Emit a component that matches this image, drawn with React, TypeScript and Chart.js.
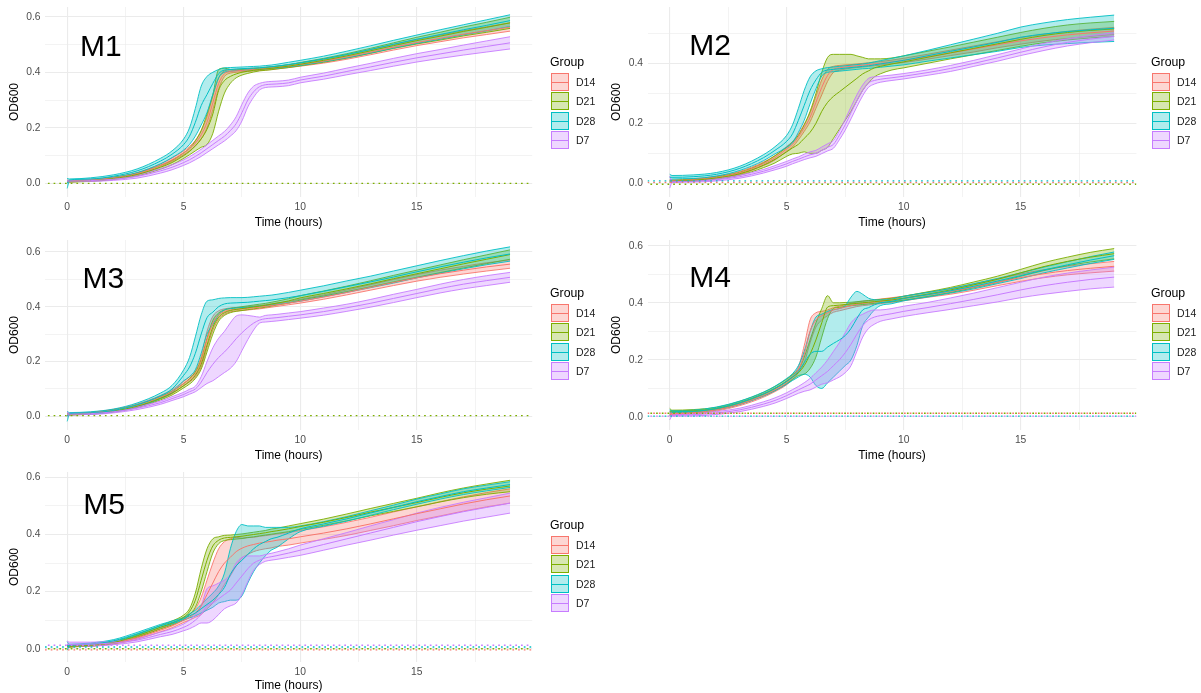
import React, { useEffect, useRef } from "react";
import { Chart, registerables } from "chart.js";

Chart.register(...registerables);

const FONT = '"Liberation Sans", Arial, Helvetica, sans-serif';
Chart.defaults.font.family = FONT;

// ---------------- data ----------------
const TIME = [0, 0.1, 1, 2, 3, 4, 4.5, 5, 5.25, 5.5, 5.75, 6, 6.25, 6.5, 6.75, 7, 7.25, 7.5, 7.75, 8, 8.25, 8.5, 8.75, 9, 9.5, 10, 11, 12, 13, 14, 15, 16, 17, 18, 19];
const GROUPS = ["D14", "D21", "D28", "D7"];
const PANEL_NAMES = ["M1", "M2", "M3", "M4", "M5"];
const X_TICKS = [0, 2.5, 5, 7.5, 10, 12.5, 15, 17.5];
const Y_TICKS_06 = [0, 0.1, 0.2, 0.3, 0.4, 0.5, 0.6];
const Y_TICKS_05 = [0, 0.1, 0.2, 0.3, 0.4, 0.5];
const X_MIN = -0.95;
const X_MAX = 19.95;

// M1
const M1_D14_MEAN = [0.008,0.008,0.012,0.02,0.035, 0.065,0.085,0.11,0.125,0.145, 0.175,0.22,0.29,0.36,0.395, 0.403,0.405,0.407,0.408,0.41, 0.411,0.413,0.415,0.417,0.422, 0.428,0.44,0.455,0.472,0.49, 0.507,0.522,0.537,0.55,0.563];
const M1_D14_SD = [0.004,0.003,0.003,0.003,0.004, 0.005,0.006,0.007,0.008,0.01, 0.015,0.02,0.025,0.02,0.01, 0.006,0.005,0.005,0.005,0.005, 0.005,0.005,0.005,0.005,0.005, 0.006,0.007,0.008,0.009,0.01, 0.011,0.012,0.013,0.014,0.015];
const M1_D21_MEAN = [0.006,0.007,0.01,0.018,0.032, 0.058,0.075,0.1,0.115,0.135, 0.16,0.195,0.25,0.335,0.37, 0.385,0.394,0.4,0.404,0.407, 0.41,0.412,0.414,0.417,0.422, 0.429,0.443,0.459,0.477,0.496, 0.514,0.53,0.547,0.562,0.578];
const M1_D21_SD = [0.003,0.003,0.003,0.004,0.005, 0.007,0.008,0.01,0.012,0.018, 0.03,0.055,0.07,0.075,0.045, 0.025,0.014,0.01,0.008,0.006, 0.005,0.005,0.005,0.005,0.005, 0.006,0.007,0.008,0.009,0.01, 0.012,0.014,0.016,0.018,0.02];
const M1_D28_MEAN = [0.0,0.012,0.016,0.026,0.045, 0.08,0.105,0.14,0.17,0.22, 0.28,0.32,0.36,0.395,0.408, 0.41,0.412,0.413,0.414,0.415, 0.416,0.418,0.42,0.422,0.428, 0.434,0.448,0.464,0.482,0.501, 0.519,0.536,0.553,0.569,0.586];
const M1_D28_SD = [0.018,0.004,0.004,0.005,0.007, 0.01,0.012,0.02,0.03,0.05, 0.07,0.065,0.04,0.015,0.008, 0.007,0.006,0.006,0.006,0.006, 0.006,0.006,0.006,0.007,0.008, 0.009,0.01,0.012,0.013,0.014, 0.015,0.017,0.018,0.02,0.021];
const M1_D7_MEAN = [0.008,0.008,0.01,0.015,0.025, 0.045,0.058,0.075,0.085,0.097, 0.11,0.125,0.14,0.155,0.17, 0.19,0.215,0.255,0.3,0.33, 0.348,0.355,0.357,0.358,0.362, 0.372,0.386,0.403,0.419,0.436, 0.452,0.466,0.48,0.493,0.506];
const M1_D7_SD = [0.003,0.002,0.003,0.004,0.006, 0.008,0.009,0.01,0.011,0.012, 0.013,0.014,0.015,0.016,0.017, 0.02,0.025,0.03,0.025,0.02, 0.012,0.01,0.01,0.01,0.01, 0.01,0.011,0.012,0.013,0.014, 0.015,0.016,0.018,0.02,0.022];
const M1_BLANK = [null, 0.0, null, null];

// M2
const M2_D14_MEAN = [0.008,0.008,0.012,0.02,0.035, 0.065,0.085,0.115,0.13,0.155, 0.185,0.22,0.27,0.32,0.36, 0.38,0.385,0.388,0.39,0.392, 0.394,0.396,0.398,0.4,0.405, 0.41,0.422,0.435,0.448,0.462, 0.475,0.486,0.495,0.502,0.508];
const M2_D14_SD = [0.004,0.003,0.003,0.004,0.005, 0.006,0.007,0.008,0.009,0.01, 0.012,0.015,0.02,0.025,0.02, 0.01,0.008,0.007,0.006,0.006, 0.006,0.006,0.006,0.006,0.006, 0.007,0.008,0.009,0.01,0.01, 0.011,0.011,0.012,0.012,0.012];
const M2_D21_MEAN = [0.006,0.007,0.01,0.018,0.032, 0.06,0.08,0.105,0.118,0.13, 0.15,0.17,0.2,0.24,0.27, 0.29,0.305,0.32,0.335,0.35, 0.365,0.375,0.385,0.39,0.398, 0.405,0.42,0.435,0.45,0.465, 0.48,0.493,0.503,0.51,0.515];
const M2_D21_SD = [0.003,0.003,0.003,0.004,0.005, 0.008,0.012,0.015,0.02,0.03, 0.045,0.07,0.1,0.13,0.15, 0.14,0.125,0.11,0.095,0.075, 0.055,0.04,0.03,0.025,0.02, 0.02,0.02,0.02,0.021,0.022, 0.023,0.024,0.025,0.025,0.025];
const M2_D28_MEAN = [0.02,0.02,0.022,0.03,0.05, 0.085,0.11,0.14,0.165,0.21, 0.26,0.31,0.345,0.37,0.378, 0.38,0.382,0.384,0.386,0.388, 0.39,0.392,0.395,0.398,0.404, 0.41,0.425,0.44,0.455,0.47, 0.487,0.498,0.506,0.512,0.517];
const M2_D28_SD = [0.01,0.006,0.006,0.006,0.007, 0.01,0.012,0.02,0.03,0.04, 0.05,0.045,0.03,0.012,0.008, 0.008,0.008,0.008,0.008,0.008, 0.008,0.009,0.01,0.011,0.013, 0.015,0.018,0.022,0.026,0.03, 0.034,0.037,0.04,0.042,0.044];
const M2_D7_MEAN = [0.004,0.005,0.007,0.012,0.022, 0.04,0.052,0.065,0.073,0.08, 0.088,0.095,0.1,0.11,0.12, 0.13,0.16,0.195,0.235,0.275, 0.31,0.335,0.343,0.347,0.352, 0.357,0.369,0.383,0.4,0.418, 0.437,0.455,0.47,0.481,0.49];
const M2_D7_SD = [0.02,0.003,0.003,0.004,0.005, 0.006,0.007,0.008,0.008,0.008, 0.009,0.01,0.01,0.011,0.012, 0.013,0.015,0.018,0.02,0.02, 0.018,0.015,0.012,0.01,0.009, 0.009,0.009,0.01,0.01,0.011, 0.011,0.012,0.012,0.012,0.012];
const M2_BLANK = [0.003, -0.003, 0.008, null];

// M3
const M3_D14_MEAN = [0.008,0.008,0.012,0.022,0.04, 0.07,0.09,0.12,0.135,0.155, 0.2,0.28,0.34,0.37,0.382, 0.388,0.39,0.392,0.394,0.396, 0.398,0.401,0.404,0.407,0.413, 0.42,0.435,0.452,0.47,0.488, 0.505,0.52,0.533,0.545,0.555];
const M3_D14_SD = [0.005,0.003,0.003,0.004,0.005, 0.006,0.007,0.008,0.009,0.012, 0.02,0.03,0.025,0.015,0.01, 0.007,0.006,0.006,0.006,0.006, 0.006,0.006,0.006,0.006,0.006, 0.007,0.008,0.009,0.01,0.011, 0.012,0.013,0.014,0.015,0.015];
const M3_D21_MEAN = [0.006,0.007,0.011,0.02,0.037, 0.066,0.085,0.112,0.128,0.15, 0.19,0.26,0.325,0.362,0.378, 0.386,0.39,0.393,0.396,0.399, 0.402,0.405,0.409,0.413,0.421, 0.432,0.448,0.465,0.483,0.502, 0.52,0.538,0.556,0.573,0.59];
const M3_D21_SD = [0.003,0.003,0.003,0.004,0.005, 0.006,0.007,0.008,0.01,0.012, 0.018,0.025,0.025,0.015,0.01, 0.008,0.007,0.007,0.007,0.007, 0.007,0.007,0.007,0.007,0.008, 0.008,0.009,0.01,0.011,0.012, 0.013,0.014,0.015,0.016,0.017];
const M3_D28_MEAN = [0.0,0.01,0.013,0.022,0.042, 0.075,0.1,0.15,0.18,0.23, 0.3,0.36,0.38,0.4,0.41, 0.413,0.414,0.415,0.416,0.418, 0.42,0.422,0.424,0.427,0.433, 0.44,0.456,0.473,0.49,0.508, 0.527,0.545,0.562,0.578,0.592];
const M3_D28_SD = [0.018,0.004,0.004,0.005,0.007, 0.01,0.013,0.02,0.035,0.06, 0.07,0.06,0.045,0.03,0.022, 0.02,0.019,0.018,0.018,0.018, 0.018,0.018,0.018,0.018,0.019, 0.02,0.02,0.021,0.021,0.022, 0.022,0.023,0.024,0.025,0.026];
const M3_D7_MEAN = [0.008,0.008,0.01,0.017,0.03, 0.05,0.065,0.08,0.09,0.1, 0.125,0.16,0.19,0.215,0.235, 0.258,0.283,0.305,0.324,0.34, 0.351,0.356,0.358,0.36,0.365, 0.37,0.382,0.396,0.412,0.43, 0.448,0.466,0.482,0.495,0.507];
const M3_D7_SD = [0.008,0.003,0.003,0.004,0.005, 0.006,0.007,0.008,0.009,0.01, 0.02,0.04,0.06,0.07,0.075, 0.083,0.083,0.065,0.044,0.025, 0.011,0.012,0.012,0.012,0.012, 0.012,0.013,0.013,0.014,0.015, 0.015,0.016,0.017,0.018,0.018];
const M3_BLANK = [null, 0.003, null, null];

// M4
const M4_D14_MEAN = [0.008,0.01,0.015,0.025,0.045, 0.075,0.095,0.12,0.14,0.165, 0.22,0.3,0.34,0.355,0.365, 0.375,0.38,0.385,0.39,0.395, 0.398,0.4,0.403,0.405,0.41, 0.415,0.428,0.44,0.455,0.472, 0.488,0.502,0.513,0.521,0.528];
const M4_D14_SD = [0.005,0.004,0.004,0.004,0.005, 0.006,0.006,0.007,0.008,0.01, 0.03,0.04,0.025,0.015,0.01, 0.008,0.008,0.008,0.008,0.008, 0.008,0.008,0.008,0.008,0.008, 0.008,0.009,0.01,0.011,0.012, 0.013,0.014,0.015,0.016,0.017];
const M4_D21_MEAN = [0.02,0.02,0.022,0.03,0.05, 0.08,0.1,0.125,0.14,0.155, 0.18,0.22,0.27,0.33,0.385, 0.39,0.392,0.394,0.396,0.398, 0.4,0.402,0.404,0.406,0.41, 0.416,0.43,0.445,0.463,0.482, 0.505,0.527,0.545,0.56,0.572];
const M4_D21_SD = [0.01,0.004,0.004,0.004,0.005, 0.006,0.007,0.008,0.009,0.01, 0.03,0.05,0.06,0.05,0.04, 0.01,0.008,0.007,0.006,0.006, 0.006,0.006,0.006,0.006,0.006, 0.007,0.008,0.009,0.01,0.011, 0.012,0.014,0.015,0.017,0.018];
const M4_D28_MEAN = [0.015,0.018,0.02,0.03,0.05, 0.08,0.1,0.125,0.14,0.16, 0.19,0.22,0.23,0.23,0.245, 0.258,0.27,0.285,0.31,0.345, 0.375,0.383,0.393,0.4,0.405, 0.415,0.428,0.442,0.458,0.476, 0.495,0.515,0.533,0.55,0.565];
const M4_D28_SD = [0.01,0.004,0.004,0.005,0.006, 0.007,0.008,0.01,0.012,0.02, 0.04,0.08,0.12,0.13,0.125, 0.118,0.11,0.105,0.11,0.095, 0.055,0.033,0.018,0.01,0.008, 0.008,0.008,0.008,0.009,0.009, 0.01,0.01,0.011,0.012,0.013];
const M4_D7_MEAN = [0.005,0.006,0.008,0.014,0.025, 0.045,0.058,0.075,0.085,0.095, 0.105,0.115,0.13,0.145,0.16, 0.18,0.2,0.225,0.255,0.29, 0.32,0.34,0.35,0.355,0.362, 0.37,0.383,0.397,0.412,0.428, 0.445,0.46,0.472,0.482,0.49];
const M4_D7_SD = [0.015,0.003,0.004,0.005,0.006, 0.008,0.009,0.01,0.011,0.012, 0.015,0.02,0.025,0.03,0.04, 0.05,0.06,0.07,0.075,0.06, 0.04,0.03,0.025,0.02,0.018, 0.018,0.018,0.02,0.022,0.025, 0.027,0.03,0.032,0.033,0.035];
const M4_BLANK = [0.013, 0.013, 0.003, 0.003];

// M5
const M5_D14_MEAN = [0.008,0.008,0.012,0.02,0.038, 0.065,0.08,0.1,0.11,0.125, 0.15,0.19,0.23,0.27,0.3, 0.32,0.34,0.352,0.36,0.365, 0.37,0.373,0.376,0.38,0.385, 0.392,0.405,0.42,0.437,0.455, 0.473,0.49,0.507,0.522,0.535];
const M5_D14_SD = [0.005,0.003,0.003,0.004,0.005, 0.006,0.007,0.008,0.01,0.015, 0.03,0.05,0.07,0.08,0.075, 0.065,0.05,0.035,0.03,0.025, 0.024,0.023,0.023,0.022,0.022, 0.022,0.022,0.023,0.023,0.024, 0.024,0.025,0.025,0.025,0.025];
const M5_D21_MEAN = [0.008,0.008,0.012,0.022,0.045, 0.075,0.09,0.11,0.13,0.17, 0.24,0.31,0.36,0.38,0.388, 0.39,0.392,0.394,0.397,0.4, 0.403,0.406,0.41,0.413,0.42, 0.428,0.443,0.46,0.478,0.495, 0.512,0.53,0.546,0.559,0.57];
const M5_D21_SD = [0.005,0.003,0.003,0.004,0.005, 0.006,0.007,0.008,0.01,0.025, 0.04,0.04,0.025,0.012,0.009, 0.008,0.008,0.008,0.008,0.008, 0.008,0.008,0.009,0.009,0.01, 0.01,0.011,0.012,0.013,0.014, 0.015,0.016,0.017,0.018,0.02];
const M5_D28_MEAN = [0.01,0.012,0.016,0.028,0.052, 0.08,0.092,0.105,0.115,0.125, 0.14,0.155,0.17,0.19,0.215, 0.26,0.29,0.31,0.33,0.35, 0.365,0.375,0.385,0.39,0.405, 0.42,0.437,0.455,0.475,0.495, 0.515,0.533,0.55,0.563,0.575];
const M5_D28_SD = [0.015,0.004,0.004,0.004,0.005, 0.005,0.005,0.005,0.007,0.01, 0.015,0.02,0.025,0.03,0.05, 0.09,0.12,0.125,0.1,0.08, 0.065,0.05,0.04,0.035,0.02, 0.01,0.008,0.008,0.008,0.008, 0.009,0.009,0.01,0.01,0.01];
const M5_D7_MEAN = [0.015,0.015,0.016,0.02,0.03, 0.05,0.06,0.075,0.085,0.1, 0.12,0.15,0.16,0.175,0.19, 0.205,0.23,0.255,0.28,0.3, 0.31,0.318,0.322,0.326,0.335, 0.345,0.365,0.385,0.405,0.425, 0.445,0.463,0.48,0.495,0.51];
const M5_D7_SD = [0.012,0.008,0.007,0.006,0.006, 0.008,0.01,0.012,0.015,0.02, 0.03,0.06,0.06,0.055,0.05, 0.055,0.07,0.065,0.045,0.025, 0.015,0.012,0.012,0.013,0.015, 0.018,0.02,0.022,0.025,0.027, 0.03,0.032,0.033,0.034,0.035];
const M5_BLANK = [-0.004, 0.0, 0.006, 0.012];

// axis ranges (data units) and panel-label anchors (data units)
const Y_RANGES = [[-0.049, 0.635], [-0.0457, 0.588], [-0.0495, 0.643], [-0.0455, 0.62], [-0.0466, 0.619]];
const LABEL_ANCHORS = [[1.45, 0.49], [1.73, 0.455], [1.55, 0.5], [1.73, 0.484], [1.58, 0.502]];

// ---------------- styles / layout ----------------
const GROUP_COLORS = ["#F8766D", "#7CAE00", "#00BFC4", "#C77CFF"];
const DASH_OFFSETS = [0, 2.8, 0, 2.8];
const TICK_FONT = 10.3;
const LAYOUT = [
  { left: 0, top: 0, width: 600, height: 231, yW: 45, padR: 67.8, xH: 34, legL: 550, legT: 55 },
  { left: 602, top: 0, width: 599, height: 231, yW: 45.5, padR: 64.6, xH: 34, legL: 549, legT: 55 },
  { left: 0, top: 233, width: 600, height: 231, yW: 45, padR: 67.8, xH: 34, legL: 550, legT: 53 },
  { left: 602, top: 233, width: 599, height: 231, yW: 45.5, padR: 64.6, xH: 34, legL: 549, legT: 53 },
  { left: 0, top: 465, width: 600, height: 228, yW: 45, padR: 67.8, xH: 31, legL: 550, legT: 53 },
];

const PANEL_DATA = [
  { means: [M1_D14_MEAN, M1_D21_MEAN, M1_D28_MEAN, M1_D7_MEAN], sds: [M1_D14_SD, M1_D21_SD, M1_D28_SD, M1_D7_SD], blanks: M1_BLANK, yTicks: Y_TICKS_06 },
  { means: [M2_D14_MEAN, M2_D21_MEAN, M2_D28_MEAN, M2_D7_MEAN], sds: [M2_D14_SD, M2_D21_SD, M2_D28_SD, M2_D7_SD], blanks: M2_BLANK, yTicks: Y_TICKS_05 },
  { means: [M3_D14_MEAN, M3_D21_MEAN, M3_D28_MEAN, M3_D7_MEAN], sds: [M3_D14_SD, M3_D21_SD, M3_D28_SD, M3_D7_SD], blanks: M3_BLANK, yTicks: Y_TICKS_06 },
  { means: [M4_D14_MEAN, M4_D21_MEAN, M4_D28_MEAN, M4_D7_MEAN], sds: [M4_D14_SD, M4_D21_SD, M4_D28_SD, M4_D7_SD], blanks: M4_BLANK, yTicks: Y_TICKS_06 },
  { means: [M5_D14_MEAN, M5_D21_MEAN, M5_D28_MEAN, M5_D7_MEAN], sds: [M5_D14_SD, M5_D21_SD, M5_D28_SD, M5_D7_SD], blanks: M5_BLANK, yTicks: Y_TICKS_06 },
];

function rgba(hex: string, a: number) {
  const n = parseInt(hex.slice(1), 16);
  return `rgba(${(n >> 16) & 255},${(n >> 8) & 255},${n & 255},${a})`;
}

function buildDatasets(means: number[][], sds: number[][], blanks: (number | null)[]) {
  const ds: any[] = [];
  const common = { pointRadius: 0, pointHoverRadius: 0, cubicInterpolationMode: "monotone" };
  GROUPS.forEach((g, gi) => {
    const c = GROUP_COLORS[gi];
    const lowerIdx = ds.length;
    ds.push({ ...common, label: g + " lower", data: TIME.map((t, i) => ({ x: t, y: means[gi][i] - sds[gi][i] })), borderColor: c, borderWidth: 0.9, fill: false });
    ds.push({ ...common, label: g + " upper", data: TIME.map((t, i) => ({ x: t, y: means[gi][i] + sds[gi][i] })), borderColor: c, borderWidth: 0.9, backgroundColor: rgba(c, 0.3), fill: lowerIdx });
  });
  GROUPS.forEach((g, gi) => {
    ds.push({ ...common, label: g, data: TIME.map((t, i) => ({ x: t, y: means[gi][i] })), borderColor: GROUP_COLORS[gi], borderWidth: 1, fill: false });
  });
  blanks.forEach((b, gi) => {
    if (b === null) return;
    ds.push({ label: GROUPS[gi] + " blank", data: [{ x: X_MIN, y: b }, { x: X_MAX, y: b }], borderColor: GROUP_COLORS[gi], borderWidth: 1.4, borderDash: [1.7, 4], borderDashOffset: DASH_OFFSETS[gi], pointRadius: 0, fill: false });
  });
  ds.forEach((d, i) => (d.order = ds.length - i));
  return ds;
}

const panelLabelPlugin = {
  id: "panelLabel",
  afterDatasetsDraw(chart: any, _args: any, opts: any) {
    const { ctx, scales } = chart;
    ctx.save();
    ctx.font = `30px ${FONT}`;
    ctx.fillStyle = "#000";
    ctx.textAlign = "center";
    ctx.textBaseline = "middle";
    ctx.fillText(opts.text, scales.x.getPixelForValue(opts.x), scales.y.getPixelForValue(opts.y));
    ctx.restore();
  },
};

function Panel({ idx }: { idx: number }) {
  const ref = useRef<HTMLCanvasElement | null>(null);
  const L = LAYOUT[idx];
  const D = PANEL_DATA[idx];
  useEffect(() => {
    if (!ref.current) return;
    const [yMin, yMax] = Y_RANGES[idx];
    const [lx, ly] = LABEL_ANCHORS[idx];
    const chart = new Chart(ref.current, {
      type: "line",
      data: { datasets: buildDatasets(D.means, D.sds, D.blanks) },
      plugins: [panelLabelPlugin],
      options: {
        animation: false,
        responsive: false,
        events: [],
        layout: { padding: { left: 0, right: L.padR, top: 7, bottom: 0 } },
        plugins: {
          legend: { display: false },
          tooltip: { enabled: false },
          panelLabel: { text: PANEL_NAMES[idx], x: lx, y: ly },
        } as any,
        scales: {
          x: {
            type: "linear",
            min: X_MIN,
            max: X_MAX,
            afterBuildTicks: (s: any) => { s.ticks = X_TICKS.map((v) => ({ value: v })); },
            afterFit: (s: any) => { s.height = L.xH; s.paddingLeft = 0; s.paddingRight = 0; },
            ticks: {
              autoSkip: false, maxRotation: 0, minRotation: 0, padding: 4.2,
              color: "#4D4D4D", font: { size: TICK_FONT },
              callback: (v: any) => (Math.abs(v % 5) < 1e-9 ? String(v) : ""),
            },
            grid: {
              drawTicks: false,
              color: "#EBEBEB",
              lineWidth: (c: any) => (c.tick && Math.abs(c.tick.value % 5) < 1e-9 ? 1.1 : 0.6),
            },
            border: { display: false },
            title: { display: true, text: "Time (hours)", color: "#000", font: { size: 12 }, padding: { top: 0, bottom: L.xH === 34 ? 1.5 : 0 } },
          },
          y: {
            type: "linear",
            min: yMin,
            max: yMax,
            afterBuildTicks: (s: any) => { s.ticks = D.yTicks.map((v) => ({ value: v })); },
            afterFit: (s: any) => { s.width = L.yW; s.paddingTop = 0; s.paddingBottom = 0; },
            ticks: {
              autoSkip: false, padding: 4.5, color: "#4D4D4D", font: { size: TICK_FONT },
              callback: (v: any) => { const k = Math.round(v * 10); return k % 2 === 0 ? (k / 10).toFixed(1) : ""; },
            },
            grid: {
              drawTicks: false,
              color: "#EBEBEB",
              lineWidth: (c: any) => (c.tick && Math.round(c.tick.value * 10) % 2 === 0 ? 1.1 : 0.6),
            },
            border: { display: false },
            title: { display: true, text: "OD600", color: "#000", font: { size: 12 }, padding: { top: 7.8, bottom: 0 } },
          },
        },
      } as any,
    });
    return () => chart.destroy();
  }, [idx]);

  return (
    <div style={{ position: "absolute", left: L.left, top: L.top, width: L.width, height: L.height }}>
      <canvas ref={ref} width={L.width} height={L.height} style={{ display: "block", width: L.width, height: L.height }} />
      <div style={{ position: "absolute", left: L.legL, top: L.legT, fontFamily: FONT }}>
        <div style={{ fontSize: 12.3, lineHeight: "14px", height: 14, color: "#000", whiteSpace: "nowrap" }}>Group</div>
        {GROUPS.map((g, i) => (
          <div key={g} style={{ position: "absolute", left: 0, top: 18 + i * 19.3, height: 18, width: 60 }}>
            <div style={{ position: "absolute", left: 1, top: 0, width: 18, height: 18, boxSizing: "border-box", border: `1px solid ${GROUP_COLORS[i]}`, background: rgba(GROUP_COLORS[i], 0.3) }}>
              <div style={{ position: "absolute", left: 0, right: 0, top: 8, height: 1, background: GROUP_COLORS[i] }} />
            </div>
            <div style={{ position: "absolute", left: 26, top: 0, lineHeight: "18px", fontSize: 10.5, color: "#1A1A1A", whiteSpace: "nowrap" }}>{g}</div>
          </div>
        ))}
      </div>
    </div>
  );
}

export default function App() {
  return (
    <div style={{ position: "absolute", left: 0, top: 0, width: 1201, height: 693, background: "#fff", overflow: "hidden" }}>
      {PANEL_NAMES.map((_, i) => (
        <Panel key={i} idx={i} />
      ))}
    </div>
  );
}
